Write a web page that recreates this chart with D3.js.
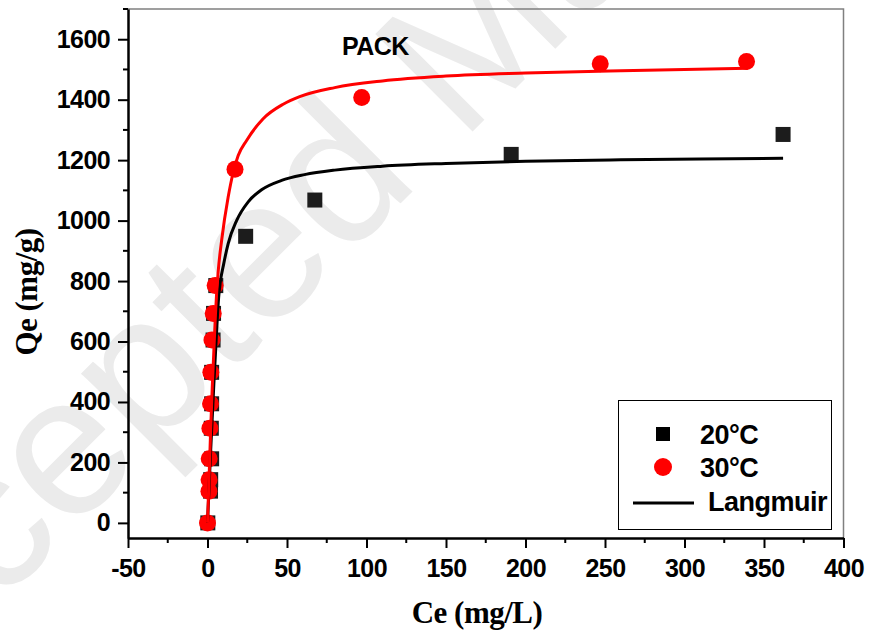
<!DOCTYPE html>
<html>
<head>
  <meta charset="utf-8">
  <title>PACK isotherm</title>
  <script src="https://d3js.org/d3.v7.min.js"></script>
  <style>
    body { margin: 0; background: #fff; }
    .tick-label { font-family: "Liberation Sans", Arial, sans-serif; font-weight: bold; font-size: 25px; letter-spacing: -0.6px; fill: #000; }
    .axis-title { font-family: "Liberation Serif", "Times New Roman", serif; font-weight: bold; font-size: 31px; letter-spacing: -0.5px; fill: #000; }
    .legend-text { font-family: "Liberation Sans", Arial, sans-serif; font-weight: bold; font-size: 27px; letter-spacing: -0.5px; fill: #000; }
  </style>
</head>
<body>
  <script>
    // 20°C points (squares)
    var ce20 = [0.2, 1.9, 2.0, 2.6, 2.4, 2.6, 2.6, 3.5, 3.8, 5.2, 24, 67.5, 191, 362];
    var qe20 = [0, 105, 143, 212, 313, 394, 498, 605, 693, 785, 948, 1068, 1219, 1285];

    // 30°C points (circles)
    var ce30 = [0, 0.9, 1.0, 1.07, 1.5, 1.9, 2.1, 2.8, 3.6, 4.8, 17.3, 97, 247, 339];
    var qe30 = [0, 105, 143, 212, 313, 394, 498, 605, 693, 785, 1170, 1407, 1519, 1526];

    // Langmuir fit lines
    var fitCe20 = [0, 1, 2, 3, 4, 5, 6, 7, 8, 10, 13, 18.3, 25.6, 34, 46.6, 61, 80, 110, 150, 200, 260, 310, 362];
    var fitQe20 = [0, 120, 240, 350, 460, 560, 660, 745, 795, 852, 924, 1000, 1062, 1102, 1133, 1152, 1167, 1180, 1189, 1196, 1201, 1204, 1206];
    var fitCe30 = [0, 1, 2, 3, 4, 5, 6.7, 8.9, 13, 16.2, 19.3, 24.6, 35, 47.6, 58, 80, 110, 150, 200, 260, 340];
    var fitQe30 = [0, 150, 310, 450, 570, 690, 830, 935, 1078, 1160, 1215, 1265, 1337, 1385, 1410, 1440, 1462, 1478, 1488, 1496, 1504];

    var xTicks = [-50, 0, 50, 100, 150, 200, 250, 300, 350, 400];
    var yTicks = [0, 200, 400, 600, 800, 1000, 1200, 1400, 1600];
    var xMinor = [-25, 25, 75, 125, 175, 225, 275, 325, 375];
    var yMinor = [100, 300, 500, 700, 900, 1100, 1300, 1500, 1700];

    var W = 870, H = 635;
    var plotL = 128, plotR = 843.5, plotT = 9, plotB = 538;

    var svg = d3.select("body").append("svg")
        .attr("width", W)
        .attr("height", H);

    var x = d3.scaleLinear().domain([-50, 400]).range([plotL, plotR]);
    var y = d3.scaleLinear().domain([-50, 1700]).range([plotB, plotT]);

    // watermark
    svg.append("text")
        .attr("transform", "translate(-168,772) rotate(-45)")
        .style("font-family", "Liberation Sans, Arial, sans-serif")
        .style("font-size", "200px")
        .style("fill", "#ebebeb")
        .text("Accepted Manuscript");

    // grey top / right frame
    svg.append("path")
        .attr("d", "M" + plotL + "," + plotT + "H" + plotR + "V" + plotB)
        .attr("fill", "none")
        .attr("stroke", "#808080")
        .attr("stroke-width", 1.5);

    // x axis
    var xAxis = svg.append("g")
        .attr("transform", "translate(0," + plotB + ")")
        .call(d3.axisBottom(x).tickValues(xTicks).tickFormat(d => String(d))
          .tickSize(10).tickSizeOuter(0).tickPadding(8));
    xAxis.append("g").selectAll("line")
        .data(xMinor).join("line")
        .attr("x1", d => x(d)).attr("x2", d => x(d))
        .attr("y1", 0).attr("y2", 5)
        .attr("stroke", "#000").attr("stroke-width", 2);

    // y axis
    var yAxis = svg.append("g")
        .attr("transform", "translate(" + plotL + ",0)")
        .call(d3.axisLeft(y).tickValues(yTicks).tickFormat(d => String(d))
          .tickSize(10).tickSizeOuter(0).tickPadding(8));
    yAxis.append("g").selectAll("line")
        .data(yMinor).join("line")
        .attr("y1", d => y(d)).attr("y2", d => y(d))
        .attr("x1", 0).attr("x2", -5)
        .attr("stroke", "#000").attr("stroke-width", 2);

    svg.selectAll(".domain").attr("stroke", "#000").attr("stroke-width", 2.5);
    svg.selectAll(".tick line").attr("stroke", "#000").attr("stroke-width", 2);
    svg.selectAll(".tick text").attr("class", "tick-label").attr("fill", "#000");
    xAxis.selectAll(".tick text").attr("dy", "0.82em");

    // axis titles
    svg.append("text")
        .attr("class", "axis-title")
        .attr("text-anchor", "middle")
        .attr("transform", "translate(37,292) rotate(-90)")
        .text("Qe (mg/g)");

    svg.append("text")
        .attr("class", "axis-title")
        .attr("text-anchor", "middle")
        .attr("x", 477)
        .attr("y", 623)
        .text("Ce (mg/L)");

    svg.append("text")
        .attr("class", "tick-label")
        .attr("x", 342)
        .attr("y", 55)
        .text("PACK");

    // markers
    var pts20 = ce20.map((c, i) => ({ c: c, q: qe20[i] }));
    var pts30 = ce30.map((c, i) => ({ c: c, q: qe30[i] }));

    svg.append("g").selectAll("rect")
        .data(pts20).join("rect")
        .attr("x", d => x(d.c) - 7.5)
        .attr("y", d => y(d.q) - 7.5)
        .attr("width", 15).attr("height", 15)
        .attr("fill", "#1c1c1c");

    svg.append("g").selectAll("circle")
        .data(pts30).join("circle")
        .attr("cx", d => x(d.c))
        .attr("cy", d => y(d.q))
        .attr("r", 8.5)
        .attr("fill", "#ff0000");

    // fit lines
    var line = d3.line()
        .x(d => x(d[0]))
        .y(d => y(d[1]))
        .curve(d3.curveMonotoneX);

    svg.append("path")
        .datum(fitCe20.map((c, i) => [c, fitQe20[i]]))
        .attr("d", line)
        .attr("fill", "none")
        .attr("stroke", "#000")
        .attr("stroke-width", 3);

    svg.append("path")
        .datum(fitCe30.map((c, i) => [c, fitQe30[i]]))
        .attr("d", line)
        .attr("fill", "none")
        .attr("stroke", "#ff0000")
        .attr("stroke-width", 3);

    // legend
    var lg = svg.append("g");
    lg.append("rect")
        .attr("x", 618.5).attr("y", 400.5)
        .attr("width", 213).attr("height", 129)
        .attr("fill", "#fff")
        .attr("stroke", "#000")
        .attr("stroke-width", 1);
    lg.append("rect")
        .attr("x", 656).attr("y", 427)
        .attr("width", 14).attr("height", 14)
        .attr("fill", "#000");
    lg.append("text").attr("class", "legend-text")
        .attr("x", 700).attr("y", 444).text("20°C");
    lg.append("circle")
        .attr("cx", 663).attr("cy", 467).attr("r", 9)
        .attr("fill", "#ff0000");
    lg.append("text").attr("class", "legend-text")
        .attr("x", 700).attr("y", 477).text("30°C");
    lg.append("line")
        .attr("x1", 633).attr("x2", 694)
        .attr("y1", 503).attr("y2", 503)
        .attr("stroke", "#000").attr("stroke-width", 3);
    lg.append("text").attr("class", "legend-text")
        .attr("x", 708).attr("y", 511).text("Langmuir");
  </script>
</body>
</html>
